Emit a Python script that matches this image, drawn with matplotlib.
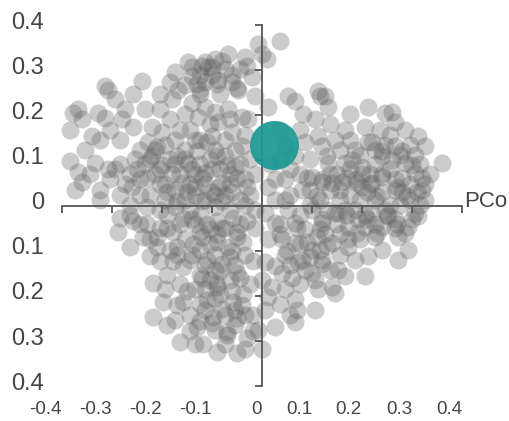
import matplotlib
matplotlib.use("Agg")
import matplotlib.pyplot as plt

plt.rcParams["font.family"] = ["Liberation Sans", "DejaVu Sans"]

# principal coordinates of the samples
pc1 = [
    0.036, -0.008, 0.010, 0.000, -0.068, -0.034, -0.114, -0.100, -0.140, -0.020,
    -0.060, -0.088, -0.114, -0.140, -0.048, -0.014, 0.012, 0.052, 0.066, 0.082,
    0.116, 0.112, -0.114, -0.068, -0.040, -0.028, -0.140, -0.128, -0.088, -0.060,
    -0.100, -0.134, -0.040, -0.054, -0.074, -0.114, -0.148, -0.034, -0.088, -0.134,
    0.066, 0.086, 0.112, 0.100, 0.046, 0.012, 0.080, 0.120,
    -0.240, -0.258, -0.308, -0.314, -0.368, -0.378, -0.328, -0.314, -0.280, -0.258,
    -0.384, -0.340, -0.324, -0.384, -0.368, -0.360, -0.334, -0.308, -0.180, -0.184,
    -0.174, -0.148, -0.220, -0.200, -0.228, -0.168, -0.204, -0.294, -0.360,
    -0.284, -0.264, -0.244, -0.224, -0.204, -0.184, -0.164, -0.144, -0.124, -0.224,
    -0.284, -0.324, -0.244, -0.194, -0.154, -0.124, -0.094, -0.174, -0.204, -0.094,
    -0.064, -0.024, -0.044, -0.114, -0.154, -0.264, -0.304, -0.164, -0.184, -0.024,
    -0.014, -0.074,
    0.126, 0.132, 0.212, 0.246, 0.260, 0.266, 0.312, 0.326, 0.360, 0.306,
    0.206, 0.166, 0.146, 0.120, 0.212, 0.266, 0.240, 0.286, 0.306, 0.320,
    0.326, 0.266, 0.240, 0.200, 0.166, 0.132, 0.120, 0.160, 0.200, 0.240,
    0.280, 0.306, 0.292, 0.272, 0.192, 0.146, 0.120, 0.226, 0.172, 0.186,
    0.226, 0.156, 0.196, 0.256, 0.096, 0.036, 0.026, 0.056, 0.286, 0.176,
    0.236, 0.336,
    0.026, 0.066, 0.120, 0.172, 0.206, 0.240, 0.286, 0.312, 0.292, 0.272,
    0.240, 0.212, 0.186, 0.206, 0.166, 0.152, 0.120, 0.140, 0.146, 0.106,
    0.112, 0.072, 0.040, 0.026, 0.006, 0.066, 0.070, 0.066, 0.106, 0.026,
    0.000, 0.020, 0.012, 0.040, 0.012, 0.066, 0.100, 0.140, 0.172, 0.052,
    0.100, 0.152, 0.186, 0.220, 0.252, 0.006, 0.086, 0.126, 0.046, 0.086,
    0.000, 0.006, -0.008,
    -0.288, -0.264, -0.238, -0.258, -0.224, -0.218, -0.198, -0.218, -0.190, -0.164,
    -0.144, -0.124, -0.118, -0.090, -0.050, -0.070, -0.030, -0.098, -0.124, -0.158,
    -0.164, -0.090, -0.084, -0.124, -0.158, -0.190, -0.178, -0.204, -0.210, -0.170,
    -0.138, -0.104, -0.070, -0.038, -0.018, -0.044, -0.038, -0.018, -0.018, -0.058,
    -0.178, -0.204, -0.230, -0.158, -0.190, -0.124, -0.090, -0.058, -0.030, -0.124,
    -0.090, -0.050, -0.230, -0.264, -0.284, -0.144, -0.114, -0.074, -0.144, -0.094,
    -0.054, -0.064, -0.014, -0.174, 0.156, 0.216, 0.276, 0.266, 0.316, 0.096,
    0.036,
    # denser parts of the clusters
    -0.234, -0.214, -0.194, -0.174, -0.154, -0.134, -0.114, -0.104, -0.084, -0.064,
    -0.044, -0.074, -0.134, -0.194, -0.244, -0.274, -0.294, -0.254, -0.214, -0.174,
    -0.144, -0.104, -0.064, -0.034, -0.054, -0.094, -0.124, -0.154, -0.204, -0.234,
    -0.274, -0.304, -0.284, -0.354, -0.344, -0.324, -0.374,
    -0.108, -0.124, -0.094, -0.074, -0.044, -0.084, -0.124, -0.154,
    0.136, 0.176, 0.216, 0.256, 0.296, 0.316, 0.276, 0.246, 0.196, 0.156,
    0.136, 0.176, 0.226, 0.266, 0.296, 0.326, 0.166, 0.206, 0.246, 0.116,
    0.076, 0.056, 0.096, 0.186, 0.226, 0.256, 0.296, 0.176, 0.136, 0.106,
    0.076, 0.036, 0.046, 0.016, 0.026, 0.046,
    0.076, 0.116, 0.156, 0.196, 0.226, 0.266, 0.036, 0.076, 0.116, 0.156,
    0.056, 0.096, 0.136, 0.076, 0.046, 0.036, 0.056,
    -0.164, -0.134, -0.104, -0.074, -0.044, -0.014, -0.154, -0.124, -0.094, -0.064,
    -0.034, -0.114, -0.094, -0.064, -0.024, -0.104, -0.134, -0.084, -0.054, -0.114,
    -0.094, -0.054, -0.034, -0.074, -0.034, -0.134, -0.174, -0.194, -0.184, -0.224,
    -0.244, -0.204, -0.144, -0.094, -0.034,
    # darkest cores
    -0.22, -0.20, -0.18, -0.16, -0.14, -0.12, -0.10, -0.08, -0.06, -0.10,
    -0.15, -0.19, -0.23, -0.21, -0.17, -0.13, -0.11, -0.09, -0.07, -0.05,
    -0.03, -0.12, -0.08, -0.17, -0.26, -0.25,
    -0.10, -0.08, -0.06, -0.12, -0.09, -0.13, -0.03, -0.05,
    0.18, 0.20, 0.22, 0.24, 0.26, 0.28, 0.30, 0.31, 0.29, 0.27,
    0.23, 0.21, 0.19, 0.17, 0.15, 0.14, 0.24, 0.22, 0.28, 0.32,
    0.25, 0.21, 0.17, 0.13, 0.27, 0.30, 0.23, 0.19, 0.15, 0.11,
    0.09, 0.13,
    0.07, 0.09, 0.11, 0.13, 0.05, 0.08, 0.10, 0.12, 0.06,
    -0.14, -0.11, -0.08, -0.05, -0.12, -0.09, -0.06, -0.14, -0.11, -0.08,
    -0.05, -0.12, -0.09, -0.06, -0.15, -0.11, -0.08, -0.05, -0.10, -0.13,
    -0.07, -0.04, -0.17, -0.19, -0.21, -0.17,
]
pc2 = [
    0.364, 0.357, 0.324, 0.335, 0.335, 0.330, 0.319, 0.308, 0.306, 0.284,
    0.273, 0.279, 0.273, 0.286, 0.257, 0.242, 0.219, 0.242, 0.231, 0.202,
    0.242, 0.253, 0.219, 0.213, 0.197, 0.191, 0.228, 0.197, 0.184, 0.162,
    0.153, 0.146, 0.131, 0.086, 0.109, 0.073, 0.095, 0.058, 0.042, 0.042,
    0.109, 0.140, 0.153, 0.064, 0.058, 0.042, 0.035, 0.051,
    0.275, 0.246, 0.257, 0.264, 0.213, 0.206, 0.206, 0.195, 0.191, 0.175,
    0.168, 0.153, 0.146, 0.098, 0.075, 0.051, 0.095, 0.080, 0.235, 0.273,
    0.295, 0.317, 0.175, 0.162, 0.140, 0.257, 0.213, 0.235, 0.191,
    0.091, 0.069, 0.058, 0.102, 0.080, 0.102, 0.069, 0.047, 0.091, 0.024,
    0.024, 0.035, 0.124, 0.135, 0.124, 0.146, 0.124, 0.035, 0.047, 0.024,
    0.047, 0.024, 0.013, 0.013, 0.013, 0.002, 0.058, 0.168, 0.191, 0.102,
    0.069, 0.146,
    0.242, 0.219, 0.219, 0.206, 0.208, 0.184, 0.153, 0.131, 0.095, 0.113,
    0.175, 0.168, 0.146, 0.131, 0.140, 0.131, 0.109, 0.095, 0.073, 0.035,
    0.013, 0.058, 0.064, 0.086, 0.095, 0.095, 0.058, 0.051, 0.042, 0.029,
    0.029, -0.016, -0.047, -0.069, -0.031, -0.016, -0.038, -0.069, -0.075, 0.124,
    0.091, 0.013, 0.013, 0.002, 0.102, 0.102, 0.013, 0.024, 0.168, 0.202,
    0.168, 0.069,
    -0.038, -0.038, -0.031, -0.047, -0.047, -0.047, -0.060, -0.024, -0.098, -0.120,
    -0.098, -0.113, -0.120, -0.157, -0.157, -0.142, -0.120, -0.180, -0.193, -0.164,
    -0.186, -0.126, -0.149, -0.135, -0.126, -0.208, -0.231, -0.259, -0.231, -0.270,
    -0.319, -0.180, -0.202, -0.075, -0.075, -0.082, -0.098, -0.082, -0.091, -0.009,
    -0.009, -0.016, -0.009, -0.016, -0.024, -0.016, -0.053, -0.064, -0.109, -0.142,
    -0.164, -0.231, -0.275,
    -0.058, -0.091, -0.069, -0.035, -0.113, -0.171, -0.213, -0.248, -0.264, -0.302,
    -0.279, -0.257, -0.308, -0.324, -0.326, -0.286, -0.293, -0.248, -0.219, -0.213,
    -0.175, -0.175, -0.146, -0.153, -0.137, -0.153, -0.124, -0.124, -0.093, -0.093,
    -0.086, -0.086, -0.093, -0.080, -0.124, -0.160, -0.197, -0.242, -0.279, -0.213,
    -0.058, -0.049, -0.042, -0.027, -0.020, -0.020, -0.035, -0.027, -0.035, -0.058,
    -0.064, -0.058, -0.004, -0.020, -0.027, -0.120, -0.186, -0.242, -0.242, -0.208,
    -0.131, -0.009, -0.009, -0.004, 0.035, 0.047, 0.002, -0.031, 0.002, 0.002,
    -0.042,
    # denser parts of the clusters
    0.091, 0.069, 0.047, 0.091, 0.102, 0.069, 0.047, 0.102, 0.080, 0.069,
    0.091, 0.024, 0.024, 0.013, 0.024, 0.047, 0.080, 0.102, 0.124, 0.146,
    0.168, 0.180, 0.191, 0.157, 0.124, 0.208, 0.246, 0.202, 0.246, 0.213,
    0.213, 0.168, 0.146, 0.124, 0.069, 0.013, 0.035,
    0.306, 0.290, 0.324, 0.302, 0.302, 0.246, 0.257, 0.268,
    0.069, 0.080, 0.069, 0.080, 0.047, 0.091, 0.113, 0.135, 0.113, 0.124,
    0.035, 0.024, 0.013, 0.035, 0.013, 0.047, -0.009, -0.020, -0.009, 0.013,
    0.069, 0.080, 0.035, 0.058, 0.124, 0.157, 0.135, 0.146, 0.180, 0.191,
    0.168, 0.168, 0.135, 0.091, 0.058, 0.013,
    -0.020, -0.053, -0.064, -0.075, -0.042, -0.049, -0.064, -0.086, -0.098, -0.109,
    -0.131, -0.115, -0.142, -0.175, -0.186, -0.219, -0.242,
    -0.042, -0.042, -0.053, -0.049, -0.042, -0.049, -0.075, -0.098, -0.109, -0.115,
    -0.109, -0.131, -0.142, -0.164, -0.175, -0.164, -0.186, -0.197, -0.231, -0.231,
    -0.275, -0.264, -0.242, -0.308, -0.319, -0.308, -0.253, -0.186, -0.098, -0.075,
    -0.042, -0.009, -0.009, -0.004, 0.002,
    # darkest cores
    0.11, 0.09, 0.07, 0.05, 0.08, 0.06, 0.08, 0.05, 0.03, 0.03,
    0.03, 0.03, 0.06, 0.13, 0.11, 0.12, 0.14, 0.11, 0.09, 0.06,
    0.04, 0.01, 0.01, 0.01, 0.04, 0.08,
    0.29, 0.32, 0.29, 0.31, 0.27, 0.27, 0.31, 0.26,
    0.10, 0.07, 0.05, 0.07, 0.10, 0.06, 0.09, 0.03, 0.02, 0.04,
    0.02, 0.03, 0.05, 0.06, 0.07, 0.05, 0.12, 0.14, 0.12, 0.06,
    -0.02, -0.03, -0.02, -0.01, -0.04, -0.03, -0.06, -0.06, -0.04, 0.02,
    0.06, 0.11,
    -0.05, -0.08, -0.07, -0.09, -0.10, -0.12, -0.15, -0.13, -0.16,
    -0.03, -0.04, -0.05, -0.07, -0.07, -0.08, -0.10, -0.11, -0.12, -0.13,
    -0.15, -0.16, -0.18, -0.19, -0.19, -0.21, -0.23, -0.25, -0.26, -0.27,
    -0.28, -0.22, -0.22, -0.05, -0.07, -0.11,
]

# highlighted group centroid
centroid_x = [0.024]
centroid_y = [0.135]

ticks = [-0.4, -0.3, -0.2, -0.1, 0.0, 0.1, 0.2, 0.3, 0.4]
x_labels = ["-0.4", "-0.3", "-0.2", "-0.1", "0", "0.1", "0.2", "0.3", "0.4"]
y_labels = ["0.4", "0.3", "0.2", "0.1", "0", "0.1", "0.2", "0.3", "0.4"]
y_label_pos = [0.4, 0.3, 0.2, 0.1, 0.0, -0.1, -0.2, -0.3, -0.4]

axis_color = "#555555"
text_color = "#454545"

fig = plt.figure(figsize=(5.10, 4.21), dpi=100)
ax = fig.add_axes([62 / 510, 35 / 421, 400 / 510, 361 / 421])
ax.set_xlim(-0.4, 0.4)
ax.set_ylim(-0.4, 0.4)

ax.scatter(pc1, pc2, s=168, color="#606060", alpha=0.32, linewidths=0,
           zorder=1, clip_on=False)
ax.scatter(centroid_x, centroid_y, s=1245, color="#1b9894", alpha=0.92,
           linewidths=0, zorder=4, clip_on=False)

# axes crossing at the origin
for side in ("top", "right"):
    ax.spines[side].set_visible(False)
ax.spines["left"].set_position(("data", 0))
ax.spines["bottom"].set_position(("data", 0))
for side in ("left", "bottom"):
    ax.spines[side].set_color(axis_color)
    ax.spines[side].set_linewidth(1.3)
    ax.spines[side].set_zorder(3)
ax.set_xticks(ticks)
ax.set_yticks(ticks)
ax.tick_params(direction="out", length=5, width=1.3, color=axis_color,
               labelbottom=False, labelleft=False)

# tick labels drawn away from the axes, as in the original
for pos, lab in zip(ticks, x_labels):
    ax.text(pos, -0.066, lab, transform=ax.get_xaxis_transform(),
            ha="right", va="center", fontsize=13.5, color=text_color)
for pos, lab in zip(y_label_pos, y_labels):
    ax.text(-0.045, pos + 0.005, lab, transform=ax.get_yaxis_transform(),
            ha="right", va="center", fontsize=17, color=text_color)

ax.text(0.405, 0.008, "PCo", ha="left", va="center", fontsize=16,
        color=text_color)

fig.savefig("out.png", dpi=100)
